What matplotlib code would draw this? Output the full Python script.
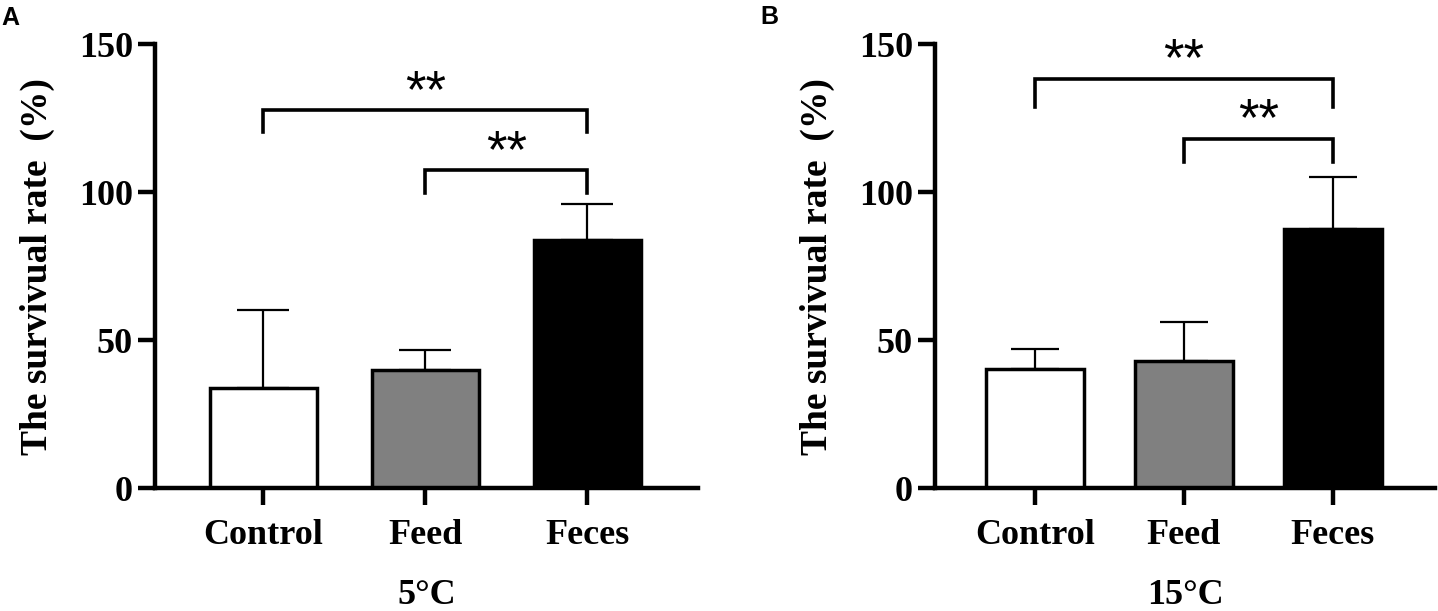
import matplotlib.pyplot as plt
import numpy as np

groups = ['Control', 'Feed', 'Feces']
colors = ['white', '#808080', 'black']

# panel A, 5°C
mean_a = [33.9, 40.0, 83.9]
err_a = [26.2, 6.7, 12.1]
# panel B, 15°C
mean_b = [40.2, 43.1, 87.5]
err_b = [6.7, 13.1, 17.6]

# brackets: (left group, right group, bar height, leg bottom)
sig_a = [(0, 2, 127.7, 120.4), (1, 2, 107.4, 99.7)]
sig_b = [(0, 2, 138.3, 128.9), (1, 2, 118.0, 110.4)]

serif = 'Liberation Serif'

fig = plt.figure(figsize=(14.38, 6.11), dpi=100)

def panel(rect, means, errs, sigs, xlabel, letter, letter_xy, cap, ylab_x):
    ax = fig.add_axes(rect)
    x = np.arange(len(groups))
    ax.errorbar(x, means, yerr=[[0] * len(errs), errs], fmt='none',
                ecolor='black', elinewidth=1.6, capsize=cap, capthick=1.6, zorder=1)
    ax.bar(x, means, width=0.66, color=colors, edgecolor='black',
           linewidth=2.5, zorder=2)
    for i, j, h, leg in sigs:
        ax.plot([i, i, j, j], [leg, h, h, leg], color='black', lw=2.6,
                solid_joinstyle='miter', clip_on=False, zorder=3)
        ax.text((i + j) / 2, h + 1.2, '**', ha='center', va='baseline',
                fontsize=38, family='Liberation Sans')
    ax.set_xlim(-0.67, 2.685)
    ax.set_ylim(0, 150)
    ax.set_yticks([0, 50, 100, 150])
    ax.set_xticks(x)
    ax.set_xticklabels(groups)
    for s in ['top', 'right']:
        ax.spines[s].set_visible(False)
    for s in ['left', 'bottom']:
        ax.spines[s].set_linewidth(3.2)
    ax.tick_params(axis='both', length=12, width=3.2, direction='out')
    ax.tick_params(axis='y', labelsize=26, pad=4)
    ax.tick_params(axis='x', labelsize=26, pad=10)
    for lab in ax.get_xticklabels() + ax.get_yticklabels():
        lab.set_fontfamily(serif)
        lab.set_fontweight('bold')
    ax.set_xlabel(xlabel, fontsize=26, fontweight='bold', family=serif)
    ax.xaxis.set_label_coords(0.5, -0.205)
    ax.set_ylabel('The survivual rate  (%)', fontsize=27, fontweight='bold', family=serif)
    ax.yaxis.set_label_coords(ylab_x, 0.5)
    fig.text(letter_xy[0], letter_xy[1], letter, fontsize=18, fontweight='bold',
             family='Liberation Sans', ha='left', va='baseline')
    return ax

panel([155 / 1438, 1 - 488.3 / 611, 543 / 1438, 444 / 611], mean_a, err_a, sig_a,
      '5°C', 'A', (1 / 1438, 1 - 25 / 611), 19, -0.185)
panel([935 / 1438, 1 - 488.3 / 611, 500 / 1438, 444 / 611], mean_b, err_b, sig_b,
      '15°C', 'B', (760 / 1438, 1 - 24 / 611), 17.5, -0.2)

fig.savefig('out.png', dpi=100)
